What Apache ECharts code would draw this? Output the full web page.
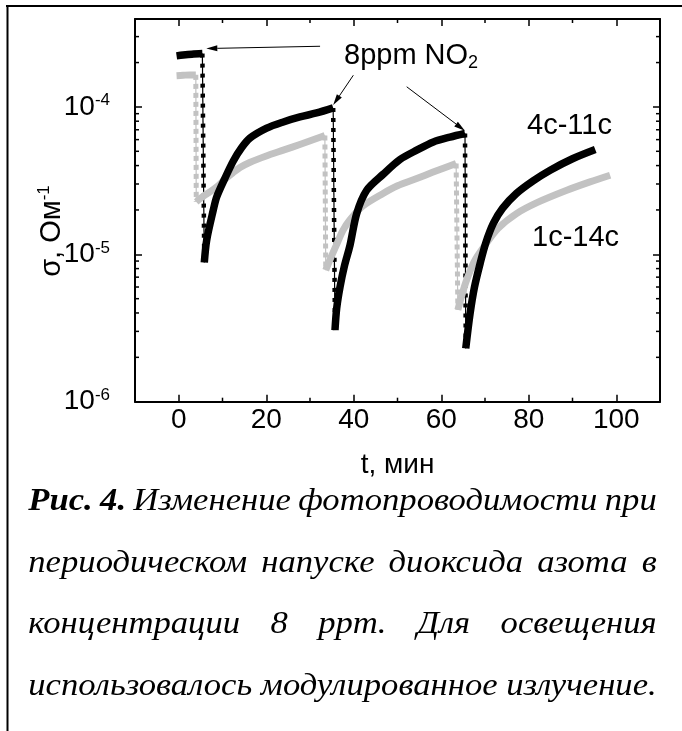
<!DOCTYPE html>
<html><head><meta charset="utf-8">
<script src="https://cdn.jsdelivr.net/npm/echarts/dist/echarts.min.js"></script>
<style>html,body{margin:0;padding:0;background:#fff}#c{width:682px;height:731px}</style>
</head><body><div id="c"></div>
<script>
// ---------- data ----------
const xMin = -10, xMax = 110;
const yMin = 1e-6, yMax = 3.95e-4;
const xMinorTicks = [10, 30, 50, 70, 90];
const yMinorTicks = [2e-6,3e-6,4e-6,5e-6,6e-6,7e-6,8e-6,9e-6,2e-5,3e-5,4e-5,5e-5,6e-5,7e-5,8e-5,9e-5,2e-4,3e-4];

// sample 4c-11c (black)
const blackPlateau = [[-0.5,2.22e-4],[1,2.25e-4],[3,2.28e-4],[5.4,2.30e-4]];
const blackRec1 = [[5.84,8.8e-6],[6.39,1.25e-5],[7.9,2.0e-5],[8.67,2.45e-5],[10.57,3.29e-5],[12.47,4.3e-5],[14.4,5.3e-5],[16.29,6.15e-5],[20.1,7.18e-5],[23.9,7.91e-5],[27.7,8.55e-5],[31.5,9.1e-5],[35.3,9.85e-5]];
const blackRec2 = [[35.71,3.06e-6],[36.1,4.3e-6],[36.86,6.0e-6],[37.9,8.4e-6],[39.14,1.15e-5],[40.67,1.89e-5],[42.96,2.72e-5],[46.75,3.5e-5],[50.57,4.4e-5],[54.39,5.09e-5],[58.2,5.79e-5],[62.0,6.24e-5],[65.43,6.6e-5]];
const blackRec3 = [[65.6,2.3e-6],[66.6,3.98e-6],[67.6,6.0e-6],[68.9,8.7e-6],[70.2,1.2e-5],[71.9,1.62e-5],[74,2.05e-5],[77.2,2.59e-5],[81,3.15e-5],[84.9,3.72e-5],[90,4.45e-5],[95.2,5.14e-5]];

// sample 1c-14c (grey)
const grayPlateau = [[-0.5,1.63e-4],[1,1.64e-4],[2.5,1.65e-4],[3.9,1.65e-4]];
const grayRec1 = [[4.0,2.27e-5],[5,2.4e-5],[6.5,2.58e-5],[8.6,2.85e-5],[10.5,3.22e-5],[12.4,3.58e-5],[14,3.88e-5],[16.2,4.2e-5],[20,4.65e-5],[23.9,5.09e-5],[28,5.6e-5],[31.5,6.1e-5],[33.4,6.4e-5]];
const grayRec2 = [[33.6,7.8e-6],[34.5,9.1e-6],[36,1.15e-5],[37.5,1.45e-5],[39.1,1.71e-5],[42,2.12e-5],[46.7,2.59e-5],[50,2.92e-5],[54.4,3.27e-5],[58,3.6e-5],[63.4,4.13e-5]];
const grayRec3 = [[63.8,4.2e-6],[64.8,5.4e-6],[65.8,6.7e-6],[67.5,8.9e-6],[69.7,1.12e-5],[73,1.5e-5],[77.2,1.89e-5],[82,2.25e-5],[88.7,2.72e-5],[94,3.1e-5],[98.6,3.44e-5]];

// annotation anchors (data coords): arrow tail -> tip
const arrows = [
  [[32.3, 2.58e-4], [6.3, 2.49e-4]],
  [[39.9, 1.64e-4], [35.3, 1.03e-4]],
  [[52.1, 1.37e-4], [65.4, 6.9e-5]]
];

const captionBold = 'Рис. 4.';
const captionLines = [
  'Рис. 4. Изменение фотопроводимости при',
  'периодическом напуске диоксида азота в',
  'концентрации 8 ppm. Для освещения',
  'использовалось модулированное излучение.'
];

// ---------- chart ----------
const BLACK = '#000000', GRAY = '#c2c2c2';
const sans = '"Liberation Sans", Arial, sans-serif';
const chart = echarts.init(document.getElementById('c'), null, {renderer: 'canvas'});

function solid(data, color) {
  return {type: 'line', data: data, showSymbol: false, symbol: 'none', smooth: 0.3,
    lineStyle: {color: color, width: color === BLACK ? 7.5 : 7, cap: 'butt', join: 'round'}, silent: true, z: color === BLACK ? 4 : 3};
}
function drop(a, b, color, thick) {
  const d = [a[a.length - 1], b[0]];
  return [
    {type: 'line', data: d, showSymbol: false, symbol: 'none', silent: true, z: 2,
      lineStyle: {color: color, width: 1.2}},
    {type: 'line', data: d, showSymbol: false, symbol: 'none', silent: true, z: 2,
      lineStyle: {color: color, width: thick, type: color === BLACK ? [4, 6] : [5, 4], cap: 'butt'}}
  ];
}
function minorX(params, api) {
  const x = api.coord([api.value(0), api.value(1)])[0];
  const cs = params.coordSys;
  const yb = cs.y + cs.height, yt = cs.y;
  return {type: 'group', children: [
    {type: 'line', shape: {x1: x, y1: yb, x2: x, y2: yb - 4}, style: {stroke: '#000', lineWidth: 1.5}},
    {type: 'line', shape: {x1: x, y1: yt, x2: x, y2: yt + 4}, style: {stroke: '#000', lineWidth: 1.5}}
  ]};
}
function minorY(params, api) {
  const y = api.coord([api.value(0), api.value(1)])[1];
  const cs = params.coordSys;
  const xl = cs.x, xr = cs.x + cs.width;
  return {type: 'group', children: [
    {type: 'line', shape: {x1: xl, y1: y, x2: xl + 4, y2: y}, style: {stroke: '#000', lineWidth: 1.5}},
    {type: 'line', shape: {x1: xr, y1: y, x2: xr - 4, y2: y}, style: {stroke: '#000', lineWidth: 1.5}}
  ]};
}

const series = [
  solid(grayPlateau, GRAY), solid(grayRec1, GRAY), solid(grayRec2, GRAY), solid(grayRec3, GRAY),
  ...drop(grayPlateau, grayRec1, GRAY, 5), ...drop(grayRec1, grayRec2, GRAY, 5), ...drop(grayRec2, grayRec3, GRAY, 5),
  ...drop(blackPlateau, blackRec1, BLACK, 4.5), ...drop(blackRec1, blackRec2, BLACK, 4.5), ...drop(blackRec2, blackRec3, BLACK, 4.5),
  solid(blackPlateau, BLACK), solid(blackRec1, BLACK), solid(blackRec2, BLACK), solid(blackRec3, BLACK),
  {type: 'custom', renderItem: minorX, data: xMinorTicks.map(t => [t, yMin]), clip: false, silent: true, z: 6},
  {type: 'custom', renderItem: minorY, data: yMinorTicks.map(v => [xMin, v]), clip: false, silent: true, z: 6}
];

const axisLine = {show: true, onZero: false, lineStyle: {color: '#000', width: 2}};
const majorTick = {show: true, inside: true, length: 7, lineStyle: {color: '#000', width: 1.5}};

chart.setOption({
  animation: false,
  backgroundColor: '#fff',
  grid: {left: 135, right: 22, top: 19, bottom: 329.3, containLabel: false},
  xAxis: [
    {type: 'value', min: xMin, max: xMax, position: 'bottom', axisLine: axisLine, axisTick: majorTick,
      splitLine: {show: false},
      axisLabel: {margin: 5, fontSize: 28, fontFamily: sans, color: '#000', showMinLabel: false, showMaxLabel: false},
      name: 't, мин', nameLocation: 'middle', nameGap: 50,
      nameTextStyle: {fontSize: 28, fontFamily: sans, color: '#000'}},
    {type: 'value', min: xMin, max: xMax, position: 'top', axisLine: axisLine, axisTick: majorTick,
      axisLabel: {show: false}, splitLine: {show: false}}
  ],
  yAxis: [
    {type: 'log', logBase: 10, min: yMin, max: yMax, position: 'left', axisLine: axisLine, axisTick: majorTick,
      splitLine: {show: false},
      axisLabel: {margin: 25, showMaxLabel: false,
        formatter: v => '{b|10}{s|' + Math.round(Math.log10(v)) + '}',
        rich: {b: {fontSize: 28, fontFamily: sans, color: '#000', lineHeight: 30},
               s: {fontSize: 17, fontFamily: sans, color: '#000', verticalAlign: 'top', lineHeight: 17}}}},
    {type: 'log', logBase: 10, min: yMin, max: yMax, position: 'right', axisLine: axisLine, axisTick: majorTick,
      axisLabel: {show: false}, splitLine: {show: false}}
  ],
  series: series
});

// ---------- graphics: frame, annotations, caption ----------
const g = [];
g.push({type: 'line', shape: {x1: 6, y1: 6, x2: 682, y2: 6}, style: {stroke: '#000', lineWidth: 2}});
g.push({type: 'line', shape: {x1: 7.5, y1: 5, x2: 7.5, y2: 731}, style: {stroke: '#000', lineWidth: 2}});

arrows.forEach(function (a) {
  const p0 = chart.convertToPixel({gridIndex: 0}, a[0]);
  const p1 = chart.convertToPixel({gridIndex: 0}, a[1]);
  const dx = p1[0] - p0[0], dy = p1[1] - p0[1], L = Math.hypot(dx, dy);
  const ux = dx / L, uy = dy / L, hl = 11, hw = 3;
  const bx = p1[0] - ux * hl, by = p1[1] - uy * hl;
  g.push({type: 'line', z: 10, shape: {x1: p0[0], y1: p0[1], x2: bx, y2: by}, style: {stroke: '#000', lineWidth: 1}});
  g.push({type: 'polygon', z: 10, shape: {points: [[p1[0], p1[1]], [bx - uy * hw, by + ux * hw], [bx + uy * hw, by - ux * hw]]},
    style: {fill: '#000'}});
});

g.push({type: 'text', x: 344, y: 56, z: 10, style: {text: '{a|8ppm NO}{s|2}', verticalAlign: 'middle',
  rich: {a: {fontSize: 29, fontFamily: sans, fill: '#000', lineHeight: 32},
         s: {fontSize: 18, fontFamily: sans, fill: '#000', verticalAlign: 'bottom', lineHeight: 18}}}});
g.push({type: 'text', x: 527, y: 126, z: 10, style: {text: '4c-11c', fontSize: 29, fontFamily: sans, fill: '#000', verticalAlign: 'middle'}});
g.push({type: 'text', x: 532, y: 237.5, z: 10, style: {text: '1c-14c', fontSize: 29, fontFamily: sans, fill: '#000', verticalAlign: 'middle'}});

g.push({type: 'text', x: 52, y: 231, rotation: Math.PI / 2, z: 10,
  style: {text: '{a|σ, Ом}{s|-1}', align: 'center', verticalAlign: 'middle',
    rich: {a: {fontSize: 29, fontFamily: sans, fill: '#000', lineHeight: 32},
           s: {fontSize: 17, fontFamily: sans, fill: '#000', verticalAlign: 'top', lineHeight: 17}}}});

// caption, justified
const capFs = 30.5, capFamily = '"Liberation Serif", "Times New Roman", serif';
const capLeft = 28.3, capRight = 656.7, capW = capRight - capLeft;
const capBase = [512, 574, 635, 697];
const mctx = document.createElement('canvas').getContext('2d');
function mw(t, bold) { mctx.font = 'italic ' + (bold ? 'bold ' : '') + capFs + 'px ' + capFamily; return mctx.measureText(t).width; }
const boldWords = captionBold.split(' ');
const lineWords = captionLines.map(function (l, li) {
  return l.split(' ').map(function (w, wi) { return {t: w, b: li === 0 && wi < boldWords.length}; });
});
const spaceW = mw(' ', false);
const last = lineWords[lineWords.length - 1];
const natural = last.reduce((s, w) => s + mw(w.t, w.b), 0) + spaceW * (last.length - 1);
const sx = capW / natural;
lineWords.forEach(function (words, li) {
  const widths = words.map(w => mw(w.t, w.b) * sx);
  const sum = widths.reduce((a, b) => a + b, 0);
  const gap = li < lineWords.length - 1 ? (capW - sum) / (words.length - 1) : spaceW * sx;
  let x = capLeft;
  words.forEach(function (w, i) {
    g.push({type: 'text', x: x, y: capBase[li] - 0.33 * capFs, scaleX: sx, z: 10,
      style: {text: w.t, fontSize: capFs, fontFamily: capFamily, fontStyle: 'italic', fontWeight: w.b ? 'bold' : 'normal',
        fill: '#000', align: 'left', verticalAlign: 'middle'}});
    x += widths[i] + gap;
  });
});

chart.setOption({graphic: g});
</script>
</body></html>
